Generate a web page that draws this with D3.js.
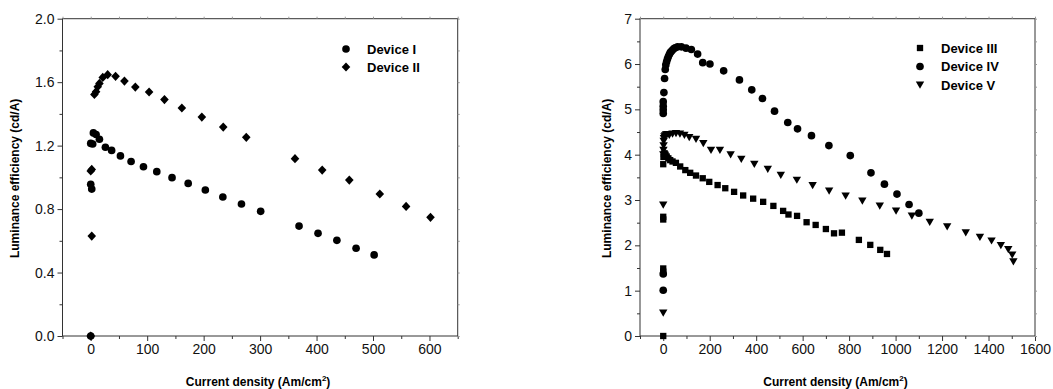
<!DOCTYPE html>
<html>
<head>
<meta charset="utf-8">
<script src="https://cdn.jsdelivr.net/npm/d3@7"></script>
<style>
  body { margin: 0; background: #fff; }
  svg { display: block; font-family: "Liberation Sans", Arial, sans-serif; }
</style>
</head>
<body>
<svg id="chart" width="1053" height="389"></svg>
<script>
// ---- data ----
const deviceI = [
  [0, 0], [0, 0.956], [1.8, 0.926], [0, 1.214], [3.5, 1.21], [4.7, 1.28], [9.5, 1.27],
  [15.4, 1.24], [26, 1.19], [37, 1.17], [52.6, 1.135], [71.5, 1.10], [93.4, 1.067],
  [117, 1.036], [144, 0.998], [172.6, 0.962], [203, 0.92], [234, 0.876], [267, 0.832],
  [301, 0.786], [369, 0.693], [402.6, 0.647], [436, 0.603], [470, 0.553], [502, 0.511]
];
const deviceII = [
  [0, 0], [1.8, 0.63], [0, 1.04], [1.8, 1.05], [6.5, 1.523], [9.5, 1.54], [12.4, 1.571],
  [15.4, 1.592], [21.3, 1.63], [30, 1.647], [44, 1.637], [59.7, 1.607], [79, 1.569],
  [103.4, 1.538], [130.6, 1.49], [161.4, 1.437], [196.8, 1.38], [234.7, 1.317],
  [275.5, 1.252], [361.8, 1.118], [410, 1.046], [458, 0.983], [512, 0.895],
  [558.6, 0.817], [601.8, 0.748]
];
const deviceIII = [
  [0, 0], [0, 1.42], [0, 1.49], [0, 2.57], [0, 2.63], [0, 3.79], [1, 3.95], [3, 4.02],
  [6, 4.03], [10, 4.0], [15, 3.96], [22, 3.92], [30, 3.88], [40, 3.85], [54.6, 3.82],
  [73, 3.74], [95, 3.66], [116, 3.6], [141, 3.54], [170, 3.48], [198, 3.4], [234, 3.33],
  [267, 3.26], [305, 3.18], [344, 3.10], [387, 3.03], [430, 2.96], [474, 2.87],
  [516, 2.76], [539, 2.68], [576, 2.65], [617, 2.51], [656, 2.45], [700, 2.36],
  [735, 2.265], [769, 2.28], [842, 2.12], [891, 2.01], [934, 1.9], [963, 1.81]
];
const deviceIV = [
  [0, 1.01], [0, 1.37], [0, 4.91], [0, 4.99], [0, 5.07], [0, 5.17], [2.9, 5.37],
  [5.75, 5.68], [8.6, 5.88], [11, 5.98], [14.4, 6.05], [18, 6.11], [21.6, 6.16],
  [26, 6.21], [30, 6.25], [35, 6.28], [40, 6.31], [46, 6.34], [52, 6.36], [62, 6.38],
  [78, 6.38], [98, 6.35], [121, 6.32], [148, 6.22], [170, 6.03], [201, 6.0],
  [260, 5.85], [328, 5.65], [381, 5.43], [427, 5.24], [479, 4.96], [536, 4.71],
  [578, 4.57], [638, 4.42], [713, 4.2], [805, 3.98], [894, 3.6], [952, 3.35],
  [1006, 3.13], [1058, 2.9], [1100, 2.71]
];
const deviceV = [
  [0, 0.51], [0, 2.89], [0.5, 4.0], [1, 4.1], [1.5, 4.2], [2, 4.3], [3, 4.36],
  [5, 4.4], [8, 4.42], [12, 4.44], [17, 4.45], [26, 4.43], [40, 4.46], [55, 4.47],
  [72, 4.46], [91, 4.43], [112, 4.38], [141, 4.34], [172.5, 4.25], [205.6, 4.1],
  [244, 4.1], [290, 4.0], [336, 3.9], [392, 3.79], [450, 3.68], [506, 3.55],
  [575, 3.44], [643, 3.32], [714, 3.2], [785, 3.09], [857, 2.98], [932, 2.87],
  [1002, 2.76], [1070, 2.65], [1147, 2.51], [1222, 2.41], [1302, 2.28], [1363, 2.18],
  [1413, 2.1], [1453, 2.0], [1485, 1.91], [1502, 1.79], [1507, 1.64]
];

const leftXTicks = [0, 100, 200, 300, 400, 500, 600];
const leftYTicks = [0, 0.4, 0.8, 1.2, 1.6, 2.0];
const rightXTicks = [0, 200, 400, 600, 800, 1000, 1200, 1400, 1600];
const rightYTicks = [0, 1, 2, 3, 4, 5, 6, 7];

const svg = d3.select("#chart");
const axisColor = "#333";

// marker shapes
const shapes = {
  circle: d3.symbol().type(d3.symbolCircle).size(46)(),
  square: d3.symbol().type(d3.symbolSquare).size(40)(),
  diamond: "M0,-4.6L4.3,0L0,4.6L-4.3,0Z",
  triDown: "M-4.2,-3.4L4.2,-3.4L0,3.8Z"
};

function panel(opts) {
  const g = svg.append("g");
  const x = d3.scaleLinear().domain(opts.xDomain).range([opts.left, opts.right]);
  const y = d3.scaleLinear().domain(opts.yDomain).range([opts.bottom, opts.top]);

  // frame
  g.append("rect")
    .attr("x", opts.left).attr("y", opts.top)
    .attr("width", opts.right - opts.left).attr("height", opts.bottom - opts.top)
    .attr("fill", "none").attr("stroke", axisColor).attr("stroke-width", 1);

  // axes
  const xAxis = d3.axisBottom(x).tickValues(opts.xTicks).tickSize(5).tickPadding(3)
    .tickFormat(d3.format("d"));
  const xMinor = d3.axisBottom(x).tickValues(opts.xMinor).tickSize(3).tickFormat("");
  const yAxis = d3.axisLeft(y).tickValues(opts.yTicks).tickSize(5).tickPadding(3)
    .tickFormat(opts.yFormat);
  const yMinor = d3.axisLeft(y).tickValues(opts.yMinor).tickSize(3).tickFormat("");

  function styleAxis(sel) {
    sel.select(".domain").remove();
    sel.selectAll("line").attr("stroke", axisColor);
    sel.selectAll("text").attr("fill", "#111").style("font-size", "14px")
      .style("font-family", "Liberation Sans, Arial, sans-serif");
  }
  g.append("g").attr("transform", `translate(0,${opts.bottom})`).call(xAxis).call(styleAxis);
  g.append("g").attr("transform", `translate(0,${opts.bottom})`).call(xMinor).call(styleAxis);
  g.append("g").attr("transform", `translate(${opts.left},0)`).call(yAxis).call(styleAxis);
  g.append("g").attr("transform", `translate(${opts.left},0)`).call(yMinor).call(styleAxis);
  // faint ticks on top/right
  g.append("g").attr("transform", `translate(0,${opts.top})`)
    .call(d3.axisTop(x).tickValues(opts.xTicks.concat(opts.xMinor)).tickSize(2).tickFormat(""))
    .call(styleAxis).selectAll("line").attr("stroke", "#999");
  g.append("g").attr("transform", `translate(${opts.right},0)`)
    .call(d3.axisRight(y).tickValues(opts.yTicks.concat(opts.yMinor)).tickSize(2).tickFormat(""))
    .call(styleAxis).selectAll("line").attr("stroke", "#999");

  // points
  opts.series.forEach(s => {
    g.append("g").selectAll("path")
      .data(s.data)
      .join("path")
      .attr("d", shapes[s.shape])
      .attr("transform", d => `translate(${x(d[0])},${y(d[1])})`)
      .attr("fill", "#000");
  });

  // legend
  opts.series.forEach((s, i) => {
    const ly = opts.legendY + i * opts.legendStep;
    g.append("path").attr("d", shapes[s.shape])
      .attr("transform", `translate(${opts.legendX},${ly})`).attr("fill", "#000");
    g.append("text").attr("x", opts.legendX + 21).attr("y", ly + 4.5)
      .style("font-size", "13px").style("font-weight", "bold").text(s.name);
  });

  // axis titles
  const xt = g.append("text")
    .attr("x", (opts.left + opts.right) / 2 - 2).attr("y", 386)
    .attr("text-anchor", "middle").style("font-size", "12px").style("font-weight", "bold");
  xt.append("tspan").text("Current density (Am/cm");
  xt.append("tspan").attr("dy", -5).style("font-size", "8px").text("2");
  xt.append("tspan").attr("dy", 5).text(")");

  g.append("text")
    .attr("transform", `translate(${opts.yTitleX},${(opts.top + opts.bottom) / 2 + 1}) rotate(-90)`)
    .attr("text-anchor", "middle").style("font-size", "12px").style("font-weight", "bold")
    .text("Luminance efficiency (cd/A)");
}

panel({
  left: 62.5, right: 457.7, top: 18.7, bottom: 336,
  xDomain: [-50, 650], yDomain: [0, 2.0],
  xTicks: leftXTicks, xMinor: [-50, 50, 150, 250, 350, 450, 550, 650],
  yTicks: leftYTicks, yMinor: [0.2, 0.6, 1.0, 1.4, 1.8],
  yFormat: d3.format(".1f"),
  series: [
    { name: "Device I", data: deviceI, shape: "circle" },
    { name: "Device II", data: deviceII, shape: "diamond" }
  ],
  legendX: 346, legendY: 49, legendStep: 18,
  yTitleX: 19
});

panel({
  left: 640, right: 1035, top: 18.7, bottom: 336,
  xDomain: [-100, 1600], yDomain: [0, 7],
  xTicks: rightXTicks, xMinor: [-100, 100, 300, 500, 700, 900, 1100, 1300, 1500],
  yTicks: rightYTicks, yMinor: [0.5, 1.5, 2.5, 3.5, 4.5, 5.5, 6.5],
  yFormat: d3.format("d"),
  series: [
    { name: "Device III", data: deviceIII, shape: "square" },
    { name: "Device IV", data: deviceIV, shape: "circle" },
    { name: "Device V", data: deviceV, shape: "triDown" }
  ],
  legendX: 920, legendY: 48, legendStep: 18.5,
  yTitleX: 611
});
</script>
</body>
</html>
